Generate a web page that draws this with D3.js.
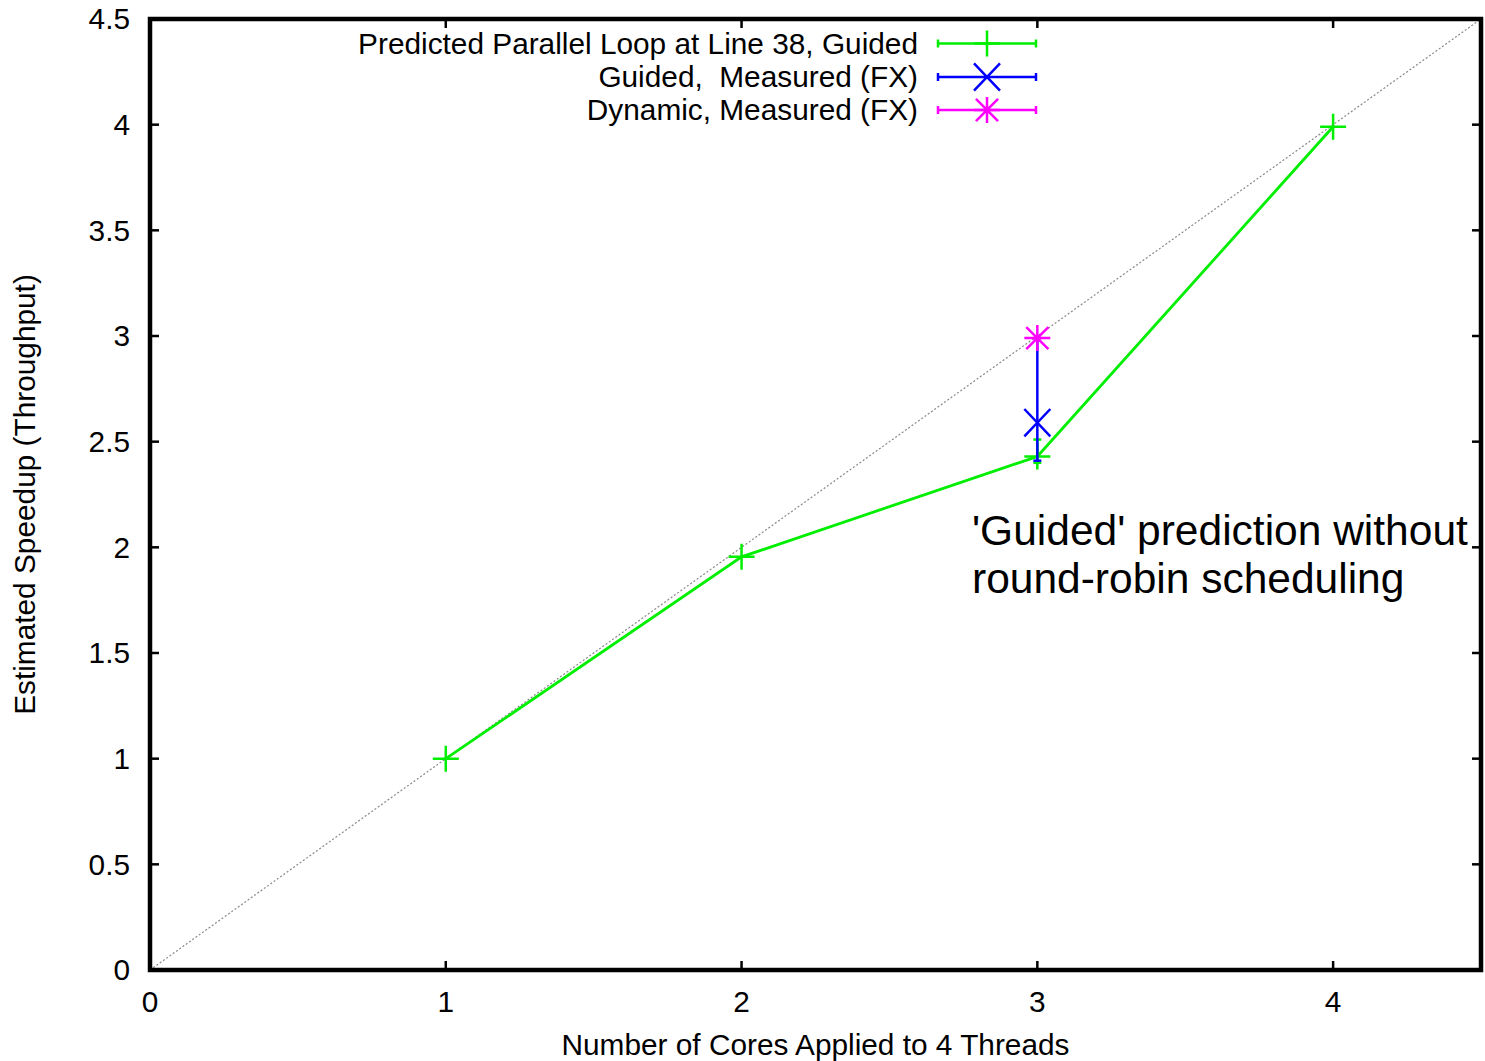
<!DOCTYPE html>
<html>
<head>
<meta charset="utf-8">
<script src="https://cdn.jsdelivr.net/npm/d3@7"></script>
<style>
  html, body { margin: 0; padding: 0; background: #fff; }
  svg { display: block; font-family: "Liberation Sans", Arial, Helvetica, sans-serif; }
  text { white-space: pre; }
</style>
</head>
<body>
<svg id="chart" width="1485" height="1061"></svg>
<script>
// ---- data ----
const xTickValues = [0, 1, 2, 3, 4];
const yTickValues = [0, 0.5, 1, 1.5, 2, 2.5, 3, 3.5, 4, 4.5];
const xTitle = "Number of Cores Applied to 4 Threads";
const yTitle = "Estimated Speedup (Throughput)";

const predictedName = "Predicted Parallel Loop at Line 38, Guided";
const predictedX    = [1, 2, 3, 4];
const predictedY    = [1.0, 1.955, 2.43, 3.99];
const predictedLow  = [1.0, 1.955, 2.40, 3.99];
const predictedHigh = [1.0, 1.955, 2.51, 3.99];

const guidedName = "Guided,  Measured (FX)";
const guidedX    = [3];
const guidedY    = [2.59];
const guidedLow  = [2.41];
const guidedHigh = [2.99];

const dynamicName = "Dynamic, Measured (FX)";
const dynamicX    = [3];
const dynamicY    = [2.99];
const dynamicLow  = [2.99];
const dynamicHigh = [2.99];

const diagonalX = [0, 4.5];
const annotationLines = ["'Guided' prediction without", "round-robin scheduling"];

// ---- layout ----
const svg = d3.select("#chart");
const L = 150, R = 1481, T = 19, B = 970;
const x = d3.scaleLinear().domain([0, 4.5]).range([L, R]);
const y = d3.scaleLinear().domain([0, 4.5]).range([B, T]);
const FS = 29.8;

const series = [
  { name: predictedName, xs: predictedX, ys: predictedY, lo: predictedLow, hi: predictedHigh, color: "#00ee00", marker: "plus", line: true },
  { name: guidedName, xs: guidedX, ys: guidedY, lo: guidedLow, hi: guidedHigh, color: "#0000ff", marker: "cross", line: false },
  { name: dynamicName, xs: dynamicX, ys: dynamicY, lo: dynamicLow, hi: dynamicHigh, color: "#ff00ff", marker: "star", line: false }
];

function markerPath(type, cx, cy, r) {
  const p = d3.path();
  if (type === "plus" || type === "star") {
    p.moveTo(cx - r, cy); p.lineTo(cx + r, cy);
    p.moveTo(cx, cy - r); p.lineTo(cx, cy + r);
  }
  if (type === "cross" || type === "star") {
    const d = type === "cross" ? r * 1.0 : r * 0.85;
    const dy = type === "cross" ? r * 1.05 : r * 0.85;
    p.moveTo(cx - d, cy - dy); p.lineTo(cx + d, cy + dy);
    p.moveTo(cx - d, cy + dy); p.lineTo(cx + d, cy - dy);
  }
  return p.toString();
}

// diagonal reference
svg.append("line")
  .attr("x1", x(diagonalX[0])).attr("y1", y(diagonalX[0]))
  .attr("x2", x(diagonalX[1])).attr("y2", y(diagonalX[1]))
  .attr("stroke", "#888").attr("stroke-width", 1.2)
  .attr("stroke-dasharray", "2,2");

// ticks (inward, mirrored)
const tl = 9;
const tickG = svg.append("g").attr("stroke", "#000").attr("stroke-width", 2.5);
yTickValues.forEach(v => {
  tickG.append("line").attr("x1", L).attr("x2", L + tl).attr("y1", y(v)).attr("y2", y(v));
  tickG.append("line").attr("x1", R - tl).attr("x2", R).attr("y1", y(v)).attr("y2", y(v));
});
xTickValues.forEach(v => {
  tickG.append("line").attr("x1", x(v)).attr("x2", x(v)).attr("y1", B).attr("y2", B - tl);
  tickG.append("line").attr("x1", x(v)).attr("x2", x(v)).attr("y1", T).attr("y2", T + tl);
});

// tick labels
svg.append("g").selectAll("text").data(yTickValues).join("text")
  .attr("x", L - 20).attr("y", d => y(d)).attr("dy", "0.35em")
  .attr("text-anchor", "end").attr("font-size", FS).attr("fill", "#000")
  .text(d => d3.format("")(d));
svg.append("g").selectAll("text").data(xTickValues).join("text")
  .attr("x", d => x(d)).attr("y", B + 42)
  .attr("text-anchor", "middle").attr("font-size", FS).attr("fill", "#000")
  .text(d => d);

// axis titles
svg.append("text").attr("x", (L + R) / 2).attr("y", 1055)
  .attr("text-anchor", "middle").attr("font-size", FS).text(xTitle);
svg.append("text").attr("transform", `translate(35,${(T + B) / 2}) rotate(-90)`)
  .attr("text-anchor", "middle").attr("font-size", FS).text(yTitle);

// series
const capW = 8;
series.forEach(s => {
  const g = svg.append("g");
  const pts = s.xs.map((xv, i) => ({ x: xv, y: s.ys[i], lo: s.lo[i], hi: s.hi[i] }));
  pts.forEach(p => {
    if (p.hi - p.lo > 1e-9) {
      g.append("line").attr("x1", x(p.x)).attr("x2", x(p.x))
        .attr("y1", y(p.lo)).attr("y2", y(p.hi))
        .attr("stroke", s.color).attr("stroke-width", 2.5);
      [p.lo, p.hi].forEach(v => {
        g.append("line").attr("x1", x(p.x) - capW / 2).attr("x2", x(p.x) + capW / 2)
          .attr("y1", y(v)).attr("y2", y(v))
          .attr("stroke", s.color).attr("stroke-width", 2.5);
      });
    }
  });
  if (s.line) {
    g.append("path").datum(pts)
      .attr("d", d3.line().x(d => x(d.x)).y(d => y(d.y)))
      .attr("fill", "none").attr("stroke", s.color).attr("stroke-width", 2.8);
  }
  pts.forEach(p => {
    g.append("path").attr("d", markerPath(s.marker, x(p.x), y(p.y), 13))
      .attr("stroke", s.color).attr("stroke-width", 2.5).attr("fill", "none");
  });
});

// legend
const legTextX = 918, legL = 938, legR = 1036, legM = 987;
const legY = [43.5, 77, 110];
series.forEach((s, i) => {
  const yy = legY[i];
  svg.append("text").attr("x", legTextX).attr("y", yy).attr("dy", "0.35em")
    .attr("text-anchor", "end").attr("font-size", FS).text(s.name);
  svg.append("line").attr("x1", legL).attr("x2", legR).attr("y1", yy).attr("y2", yy)
    .attr("stroke", s.color).attr("stroke-width", 2.5);
  [legL, legR].forEach(xx => {
    svg.append("line").attr("x1", xx).attr("x2", xx).attr("y1", yy - 4).attr("y2", yy + 4)
      .attr("stroke", s.color).attr("stroke-width", 2.5);
  });
  svg.append("path").attr("d", markerPath(s.marker, legM, yy, 13))
    .attr("stroke", s.color).attr("stroke-width", 2.5).attr("fill", "none");
});

// annotation
const ann = svg.append("text").attr("font-size", 42.5).attr("fill", "#000");
annotationLines.forEach((t, i) => {
  ann.append("tspan").attr("x", 972).attr("y", 545 + i * 48).text(t);
});

// frame
svg.append("rect").attr("x", L).attr("y", T).attr("width", R - L).attr("height", B - T)
  .attr("fill", "none").attr("stroke", "#000").attr("stroke-width", 4.5);
</script>
</body>
</html>
